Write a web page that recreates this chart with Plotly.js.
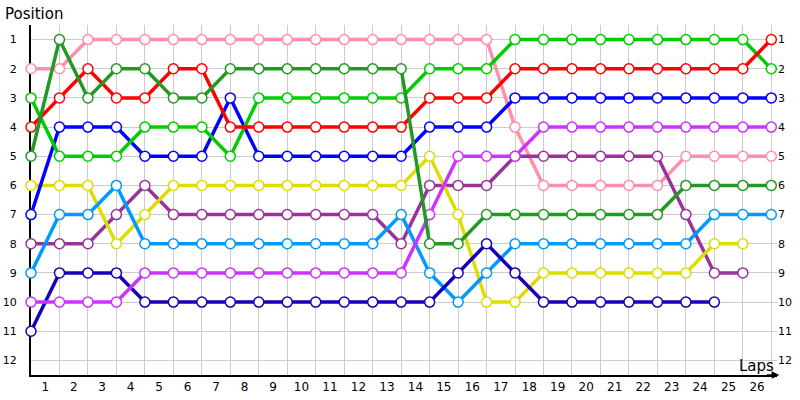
<!DOCTYPE html>
<html>
<head>
<meta charset="utf-8">
<script src="https://cdn.plot.ly/plotly-3.0.1.min.js"></script>
<style>
  html, body { margin: 0; padding: 0; background: #fff; }
  #chart { width: 800px; height: 400px; }
</style>
</head>
<body>
<div id="chart"></div>
<script>
// laps 0..26, position of each car after the lap
var laps = [0,1,2,3,4,5,6,7,8,9,10,11,12,13,14,15,16,17,18,19,20,21,22,23,24,25,26];
var lapLabels = ['1','2','3','4','5','6','7','8','9','10','11','12','13','14','15','16','17','18','19','20','21','22','23','24','25','26'];
var positions = [1,2,3,4,5,6,7,8,9,10,11,12];

var pinkPos      = [2,2,1,1,1,1,1,1,1,1,1,1,1,1,1,1,1,4,6,6,6,6,6,5,5,5,5];
var darkGreenPos = [5,1,3,2,2,3,3,2,2,2,2,2,2,2,8,8,7,7,7,7,7,7,7,6,6,6,6];
var redPos       = [4,3,2,3,3,2,2,4,4,4,4,4,4,4,3,3,3,2,2,2,2,2,2,2,2,2,1];
var greenPos     = [3,5,5,5,4,4,4,5,3,3,3,3,3,3,2,2,2,1,1,1,1,1,1,1,1,1,2];
var bluePos      = [7,4,4,4,5,5,5,3,5,5,5,5,5,5,4,4,4,3,3,3,3,3,3,3,3,3,3];
var yellowPos    = [6,6,6,8,7,6,6,6,6,6,6,6,6,6,5,7,10,10,9,9,9,9,9,9,8,8];
var lightBluePos = [9,7,7,6,8,8,8,8,8,8,8,8,8,7,9,10,9,8,8,8,8,8,8,8,7,7,7];
var purplePos    = [8,8,8,7,6,7,7,7,7,7,7,7,7,8,6,6,6,5,5,5,5,5,5,7,9,9];
var magentaPos   = [10,10,10,10,9,9,9,9,9,9,9,9,9,9,7,5,5,5,4,4,4,4,4,4,4,4,4];
var darkBluePos  = [11,9,9,9,10,10,10,10,10,10,10,10,10,10,10,9,8,9,10,10,10,10,10,10,10];

var series = [
  {y: pinkPos,      color: '#ff8fab'},
  {y: purplePos,    color: '#993399'},
  {y: yellowPos,    color: '#dddd00'},
  {y: lightBluePos, color: '#0099ff'},
  {y: darkBluePos,  color: '#1400b8'},
  {y: magentaPos,   color: '#cc33ff'},
  {y: bluePos,      color: '#0000ff'},
  {y: greenPos,     color: '#00cc00'},
  {y: redPos,       color: '#ff0000'},
  {y: darkGreenPos, color: '#229922'}
];

var data = series.map(function (s) {
  return {
    x: laps.slice(0, s.y.length),
    y: s.y,
    type: 'scatter',
    mode: 'lines+markers',
    hoverinfo: 'none',
    cliponaxis: false,
    line: {color: s.color, width: 3.5},
    marker: {color: '#ffffff', size: 10, line: {color: s.color, width: 1.5}}
  };
});

// empty trace so the right-hand position axis is drawn
data.push({x: [], y: [], yaxis: 'y2', type: 'scatter', hoverinfo: 'none', showlegend: false});

var tickFont = {family: 'DejaVu Sans', size: 11, color: '#000'};

var layout = {
  width: 800,
  height: 400,
  plot_bgcolor: '#ffffff',
  paper_bgcolor: '#ffffff',
  showlegend: false,
  margin: {t: 25, b: 25, l: 31, r: 23},
  xaxis: {
    range: [0, 26.2],
    tickmode: 'array',
    tickvals: lapLabels.map(function (t, i) { return i + 0.5; }),
    ticktext: lapLabels,
    ticks: '',
    showgrid: false,
    zeroline: false,
    showline: true,
    linecolor: '#000',
    linewidth: 2,
    layer: 'below traces',
    tickfont: {family: 'DejaVu Sans', size: 12, color: '#000'},
    minor: {tickmode: 'linear', tick0: 0, dtick: 1, showgrid: true, gridcolor: '#cccccc', gridwidth: 1, ticks: ''}
  },
  yaxis: {
    range: [12.5, 0.5],
    tickmode: 'array',
    tickvals: positions,
    ticktext: positions.map(String),
    ticks: '',
    showgrid: true,
    gridcolor: '#cccccc',
    gridwidth: 1,
    zeroline: false,
    showline: true,
    linecolor: '#000',
    linewidth: 2,
    layer: 'below traces',
    ticklabelstandoff: 10,
    tickfont: tickFont
  },
  yaxis2: {
    overlaying: 'y',
    side: 'right',
    anchor: 'x',
    range: [12.5, 0.5],
    tickmode: 'array',
    tickvals: positions,
    ticktext: positions.map(String),
    ticks: '',
    showgrid: false,
    zeroline: false,
    showline: false,
    ticklabelstandoff: 0,
    tickfont: tickFont
  },
  annotations: [
    {text: 'Position', xref: 'paper', yref: 'paper', x: -0.038, y: 1.03,
     xanchor: 'left', yanchor: 'middle', showarrow: false,
     font: {family: 'DejaVu Sans', size: 15, color: '#000'}},
    {text: 'Laps', xref: 'paper', yref: 'paper', x: 0.998, y: 0.025,
     xanchor: 'right', yanchor: 'middle', showarrow: false,
     font: {family: 'DejaVu Sans', size: 15, color: '#000'}},
    {text: '', xref: 'paper', yref: 'paper', x: 1.003, y: 0, ax: -14, ay: 0,
     showarrow: true, arrowhead: 2, arrowsize: 1, arrowwidth: 1.5, arrowcolor: '#000'}
  ]
};

var config = {displayModeBar: false, staticPlot: true};

Plotly.newPlot('chart', data, layout, config);
</script>
</body>
</html>
